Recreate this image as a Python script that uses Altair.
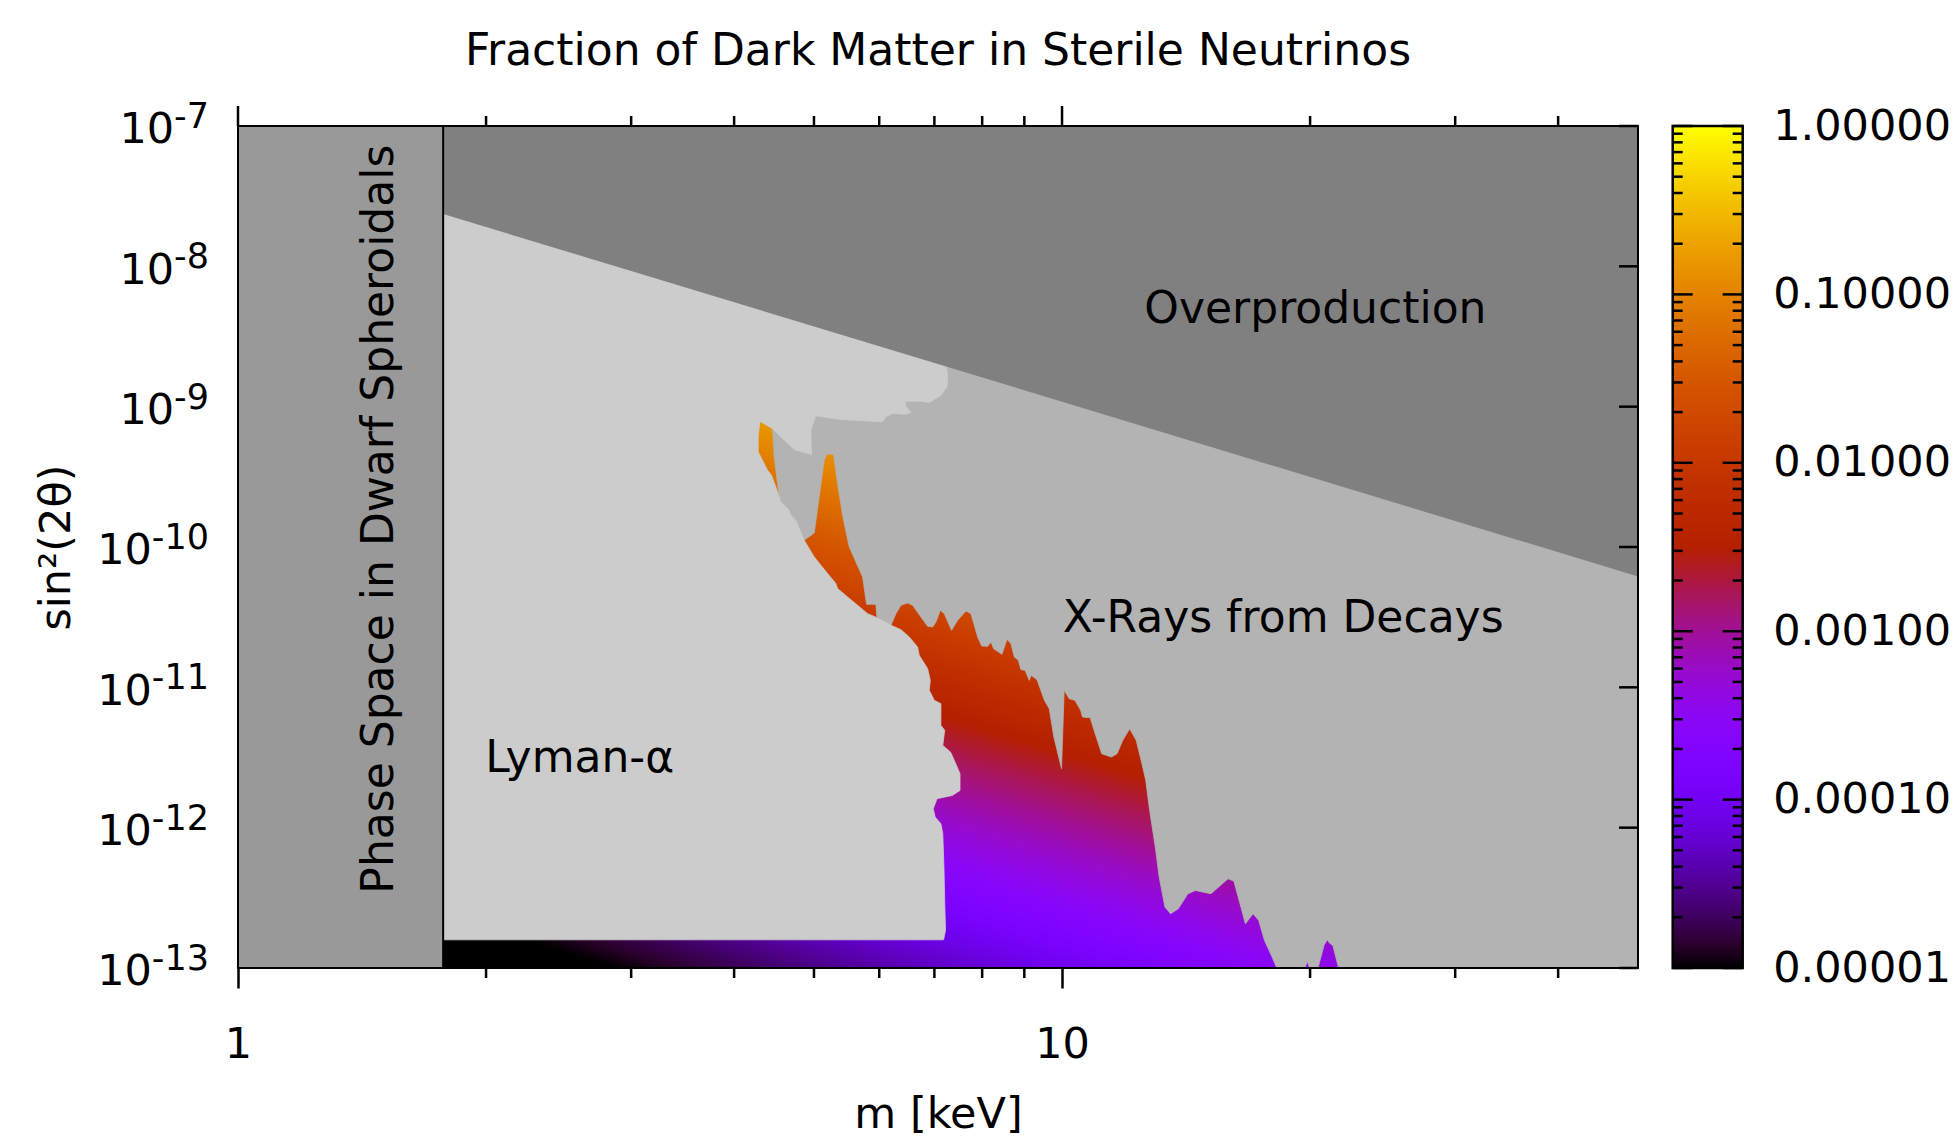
import math
import altair as alt
import pandas as pd

# ---------------- data ----------------
M_DOMAIN = [1.0, 50.0]          # keV
S_DOMAIN = [1e-13, 1e-7]        # sin^2(2 theta)
F_DOMAIN = [1e-5, 1.0]          # fraction of dark matter

PHASE_M = 1.774                 # phase-space (dwarf spheroidals) bound

OVER_M = [1.774, 50.0]          # overproduction bound (fraction = 1)
OVER_S = [2.36e-8, 6.17e-11]

# Lyman-alpha exclusion boundary, top -> bottom (log10 m, log10 sin^2)
LYMAN_LOGM = [0.8591, 0.8612, 0.8604, 0.8531, 0.8389, 0.8288, 0.8094, 0.8106, 0.8166, 0.8085,
              0.7944, 0.7863, 0.7822, 0.7316, 0.7013, 0.6952, 0.6960, 0.6750, 0.6628, 0.6487,
              0.6333, 0.6313, 0.6313, 0.6365, 0.6426, 0.6474, 0.6527, 0.6568, 0.6588, 0.6689,
              0.6709, 0.6770, 0.6871, 0.6993, 0.7155, 0.7256, 0.7276, 0.7397, 0.7519, 0.7640,
              0.7754, 0.7822, 0.7924, 0.8045, 0.8146, 0.8247, 0.8267, 0.8369, 0.8401, 0.8389,
              0.8450, 0.8530, 0.8530, 0.8576, 0.8553, 0.8646, 0.8693, 0.8762, 0.8762, 0.8669,
              0.8483, 0.8437, 0.8460, 0.8530, 0.8553, 0.8567, 0.8576, 0.8586, 0.8562]
LYMAN_LOGS = [-8.7042, -8.7755, -8.8586, -8.9181, -8.9703, -8.9608, -8.9608, -8.9965, -9.0416, -9.0535,
              -9.0488, -9.0725, -9.1082, -9.0916, -9.0654, -9.1676, -9.3411, -9.3055, -9.2389, -9.1557,
              -9.1034, -9.2151, -9.3221, -9.3815, -9.4528, -9.4885, -9.5717, -9.6430, -9.6786, -9.7380,
              -9.7737, -9.8093, -9.9519, -10.0708, -10.1896, -10.2609, -10.2965, -10.3560, -10.4154, -10.4748,
              -10.5033, -10.5223, -10.5580, -10.5889, -10.6412, -10.7125, -10.7719, -10.8669, -10.9501, -11.0214,
              -11.0927, -11.1165, -11.2710, -11.3066, -11.4136, -11.4611, -11.5205, -11.6156, -11.7344, -11.7701,
              -11.7938, -11.8651, -11.9246, -11.9721, -12.0434, -12.2811, -12.5187, -12.7326, -12.7992]

# X-ray (decay) exclusion boundary, left -> right (log10 m, log10 sin^2)
XRAY_LOGM = [0.6333, 0.6487, 0.6507, 0.6568, 0.6588, 0.6689, 0.6709, 0.6770, 0.6871,
             0.6993, 0.7114, 0.7146, 0.7227, 0.7276, 0.7337, 0.7418, 0.7580, 0.7628, 0.7741, 0.7754,
             0.7822, 0.7924,
             0.7984, 0.8045, 0.8126, 0.8187, 0.8288, 0.8369, 0.8430, 0.8470, 0.8523, 0.8571,
             0.8660, 0.8733, 0.8834, 0.8895, 0.8976, 0.9025, 0.9097, 0.9138, 0.9170, 0.9271,
             0.9332, 0.9381, 0.9421, 0.9470, 0.9502, 0.9551, 0.9603, 0.9624, 0.9697, 0.9786,
             0.9845, 0.9901, 0.9994, 1.0026, 1.0087, 1.0157, 1.0226, 1.0249, 1.0342, 1.0389,
             1.0482, 1.0598, 1.0668, 1.0737, 1.0821, 1.0900, 1.0970, 1.1016, 1.1063, 1.1132,
             1.1179, 1.1249, 1.1318, 1.1411, 1.1527, 1.1620, 1.1806, 1.1922, 1.2015, 1.2085,
             1.2155, 1.2225, 1.2318, 1.2387, 1.2457, 1.2550, 1.2606,
             1.2951, 1.2975, 1.3004, 1.3105, 1.3153, 1.3178, 1.3218, 1.3247, 1.3287, 1.3356]
XRAY_LOGS = [-9.1034, -9.1557, -9.3577, -9.6430, -9.6786, -9.7380, -9.7737, -9.8093, -9.9519,
             -9.8996, -9.3815, -9.3387, -9.3387, -9.5479, -9.7737, -9.9995, -10.2134, -10.4082, -10.4082, -10.4986,
             -10.5223, -10.5580,
             -10.4748, -10.4154, -10.3987, -10.4154, -10.4986, -10.5651, -10.5699, -10.5342, -10.4510, -10.4748,
             -10.5936, -10.5223, -10.4558, -10.4748, -10.6412, -10.7054, -10.7078, -10.6768, -10.7244, -10.7648,
             -10.6578, -10.6887, -10.7838, -10.8075, -10.8741, -10.8789, -10.9501, -10.9145, -10.9454, -11.0927,
             -11.1521, -11.3542, -11.5799, -11.0214, -11.0808, -11.0927, -11.1640, -11.2115, -11.2163, -11.3066,
             -11.4730, -11.4968, -11.4730, -11.3779, -11.2947, -11.3779, -11.5443, -11.6631, -11.8770, -12.1385,
             -12.3524, -12.5663, -12.6138, -12.5782, -12.4712, -12.4474, -12.4712, -12.4118, -12.3643, -12.3809,
             -12.5306, -12.6851, -12.6138, -12.6614, -12.8039, -12.9228, -13.0,
             -13.0, -12.9513, -13.0, -13.0, -12.8990, -12.8395, -12.7991, -12.8229, -12.8395, -13.0]

X_MAJOR = [1, 10]
X_MINOR = [2, 3, 4, 5, 6, 7, 8, 9, 20, 30, 40]
Y_TICKS = [1e-13, 1e-12, 1e-11, 1e-10, 1e-9, 1e-8, 1e-7]
Y_EXP = ["-13", "-12", "-11", "-10", "-9", "-8", "-7"]
CB_TICKS = [1e-5, 1e-4, 1e-3, 1e-2, 1e-1, 1.0]
CB_MINOR = [k * d for d in [1e-5, 1e-4, 1e-3, 1e-2, 1e-1] for k in range(2, 10)]

ANNOT_TEXT = ["Overproduction", "X-Rays from Decays", "Lyman-α", "Phase Space in Dwarf Spheroidals"]
ANNOT_M = [20.3, 18.55, 2.598, 1.489]
ANNOT_S = [4.87e-9, 3.06e-11, 3.07e-12, 1.58e-10]
ANNOT_ANGLE = [0, 0, 0, 270]

TITLE = "Fraction of Dark Matter in Sterile Neutrinos"

# ---------------- styling ----------------
W, H = 1400, 842
FONT = "DejaVu Sans"
FS = 43          # tick labels / axis titles
FS_TXT = 44      # title and annotations
FS_EXP = 35      # exponent of the y tick labels
C_PHASE = "#999999"
C_OVER = "#808080"
C_XRAY = "#b3b3b3"
C_LYMAN = "#cccccc"


def palette(t):
    # gnuplot "rgbformulae 7,5,15"
    r = math.sqrt(t)
    g = t ** 3
    b = max(0.0, math.sin(2 * math.pi * t))
    return "#%02x%02x%02x" % (round(255 * r), round(255 * g), round(255 * b))


STOPS = [alt.GradientStop(offset=i / 40, color=palette(i / 40)) for i in range(41)]

# colour field: lines of constant fraction run parallel to the overproduction bound
lm_min, lm_max = math.log10(M_DOMAIN[0]), math.log10(M_DOMAIN[1])
ls_min, ls_max = math.log10(S_DOMAIN[0]), math.log10(S_DOMAIN[1])
lf_min, lf_max = math.log10(F_DOMAIN[0]), math.log10(F_DOMAIN[1])
A = lm_max - lm_min
Ls = ls_max - ls_min
Lf = lf_max - lf_min
k = (math.log10(OVER_S[1]) - math.log10(OVER_S[0])) / (math.log10(OVER_M[1]) - math.log10(OVER_M[0]))
l0 = math.log10(OVER_S[0])
lm0 = math.log10(OVER_M[0])
alpha = -k * A / Lf
beta = -Ls / Lf
gamma = (ls_max - l0 - k * (lm_min - lm0) - lf_min) / Lf
n2 = alpha ** 2 + beta ** 2
dx, dy = alpha / n2, beta / n2
gx1, gy1 = -gamma * dx, -gamma * dy
gx2, gy2 = gx1 + dx, gy1 + dy
FIELD_FILL = alt.LinearGradient(gradient="linear", stops=STOPS, x1=gx1, y1=gy1, x2=gx2, y2=gy2)
CB_FILL = alt.LinearGradient(gradient="linear", stops=STOPS, x1=0, y1=1, x2=0, y2=0)

xs = alt.Scale(type="log", domain=M_DOMAIN, nice=False, zero=False)
ys = alt.Scale(type="log", domain=S_DOMAIN, nice=False, zero=False)
cs = alt.Scale(type="log", domain=F_DOMAIN, nice=False, zero=False)

x_axis = alt.Axis(values=X_MAJOR, format="~g", title="m [keV]", tickSize=20, tickWidth=2.5, tickColor="black",
                  domain=False, grid=False, labelFont=FONT, labelFontSize=FS, labelColor="black",
                  labelPadding=35, labelFlush=False, labelOverlap=False, titleFont=FONT, titleFontSize=FS,
                  titleFontWeight="normal", titleColor="black", titlePadding=27)
y_axis = alt.Axis(values=Y_TICKS, labels=False, ticks=False, tickSize=0, domain=False, grid=False,
                  minExtent=0, maxExtent=0, title="sin²(2θ)", titleFont=FONT, titleFontSize=FS,
                  titleFontWeight="normal", titleColor="black", titlePadding=160)
cb_axis = alt.Axis(orient="right", values=CB_TICKS, format=".5f", ticks=False, tickSize=0, domain=False,
                   grid=False, labelFont=FONT, labelFontSize=FS, labelColor="black", labelPadding=30,
                   offset=104.7, title=None, labelOverlap=False, labelFlush=False)


def X(f):
    return alt.X(f, scale=xs, axis=x_axis)


def Y(f):
    return alt.Y(f, scale=ys, axis=y_axis)


def YC(f):
    return alt.Y(f, scale=cs, axis=cb_axis)


# ---------------- tables ----------------
field_df = pd.DataFrame({"m0": [M_DOMAIN[0]], "m1": [M_DOMAIN[1]], "s0": [S_DOMAIN[0]], "s1": [S_DOMAIN[1]]})

xray_pts = [(PHASE_M, S_DOMAIN[1])] + [(10 ** a, 10 ** b) for a, b in zip(XRAY_LOGM, XRAY_LOGS)] + \
           [(M_DOMAIN[1], S_DOMAIN[0]), (M_DOMAIN[1], S_DOMAIN[1])]
xray_df = pd.DataFrame({"i": range(len(xray_pts)), "m": [p[0] for p in xray_pts], "s": [p[1] for p in xray_pts]})

lyman_pts = [(PHASE_M, S_DOMAIN[1]), (10 ** LYMAN_LOGM[0], S_DOMAIN[1])] + \
            [(10 ** a, 10 ** b) for a, b in zip(LYMAN_LOGM, LYMAN_LOGS)] + [(PHASE_M, 10 ** LYMAN_LOGS[-1])]
lyman_df = pd.DataFrame({"i": range(len(lyman_pts)), "m": [p[0] for p in lyman_pts], "s": [p[1] for p in lyman_pts]})

over_df = pd.DataFrame({"m": OVER_M, "s": OVER_S, "top": [S_DOMAIN[1]] * 2})
phase_df = pd.DataFrame({"m0": [M_DOMAIN[0]], "m1": [PHASE_M], "s0": [S_DOMAIN[0]], "s1": [S_DOMAIN[1]]})
xmaj_df = pd.DataFrame({"m": X_MAJOR})
xmin_df = pd.DataFrame({"m": X_MINOR})
ytick_df = pd.DataFrame({"s": Y_TICKS, "e": Y_EXP, "b": ["10"] * len(Y_TICKS)})
annot_df = pd.DataFrame({"t": ANNOT_TEXT, "m": ANNOT_M, "s": ANNOT_S, "a": ANNOT_ANGLE})
title_df = pd.DataFrame({"t": [TITLE]})
cb_df = pd.DataFrame({"f0": [F_DOMAIN[0]], "f1": [F_DOMAIN[1]]})
cbmaj_df = pd.DataFrame({"f": CB_TICKS})
cbmin_df = pd.DataFrame({"f": CB_MINOR})

# ---------------- main panel ----------------
field = alt.Chart(field_df).mark_rect(fill=FIELD_FILL, strokeWidth=0).encode(
    x=X("m0:Q"), x2="m1:Q", y=Y("s0:Q"), y2="s1:Q")

xray = alt.Chart(xray_df).mark_line(fill=C_XRAY, stroke=C_XRAY, strokeWidth=0.8, clip=True).encode(
    x=X("m:Q"), y=Y("s:Q"), order="i:Q")

lyman = alt.Chart(lyman_df).mark_line(fill=C_LYMAN, stroke=C_LYMAN, strokeWidth=0.8, clip=True).encode(
    x=X("m:Q"), y=Y("s:Q"), order="i:Q")

over = alt.Chart(over_df).mark_area(color=C_OVER, clip=True).encode(
    x=X("m:Q"), y=Y("s:Q"), y2="top:Q")

phase = alt.Chart(phase_df).mark_rect(color=C_PHASE).encode(
    x=X("m0:Q"), x2="m1:Q", y=Y("s0:Q"), y2="s1:Q")

phase_line = alt.Chart(phase_df).mark_rule(color="black", strokeWidth=2).encode(
    x=X("m1:Q"), y=Y("s0:Q"), y2="s1:Q")

frame = alt.Chart(field_df).mark_rect(fill=None, stroke="black", strokeWidth=2).encode(
    x=X("m0:Q"), x2="m1:Q", y=Y("s0:Q"), y2="s1:Q")

bot_minor = alt.Chart(xmin_df).mark_rule(color="black", strokeWidth=2.5).encode(
    x=X("m:Q"), y=alt.value(H), y2=alt.value(H + 10))
top_minor = alt.Chart(xmin_df).mark_rule(color="black", strokeWidth=2.5).encode(
    x=X("m:Q"), y=alt.value(0), y2=alt.value(-10))
top_major = alt.Chart(xmaj_df).mark_rule(color="black", strokeWidth=2.5).encode(
    x=X("m:Q"), y=alt.value(0), y2=alt.value(-20))
right_ticks = alt.Chart(ytick_df).mark_rule(color="black", strokeWidth=2.5).encode(
    y=Y("s:Q"), x=alt.value(W - 19), x2=alt.value(W))

# y tick labels: "10" with a raised, smaller exponent (right-justified as a whole)
EXP_RIGHT = -29
exp_w_short = FS_EXP * (0.361 + 0.636)
exp_w_long = FS_EXP * (0.361 + 2 * 0.636)
ylab_exp = alt.Chart(ytick_df).mark_text(font=FONT, fontSize=FS_EXP, color="black", align="right",
                                         baseline="alphabetic", dy=2).encode(
    y=Y("s:Q"), x=alt.value(EXP_RIGHT), text="e:N")
ylab_base_s = alt.Chart(ytick_df).transform_filter("length(datum.e) == 2").mark_text(
    font=FONT, fontSize=FS, color="black", align="right", baseline="alphabetic", dy=17.3).encode(
    y=Y("s:Q"), x=alt.value(EXP_RIGHT - exp_w_short), text="b:N")
ylab_base_l = alt.Chart(ytick_df).transform_filter("length(datum.e) == 3").mark_text(
    font=FONT, fontSize=FS, color="black", align="right", baseline="alphabetic", dy=17.3).encode(
    y=Y("s:Q"), x=alt.value(EXP_RIGHT - exp_w_long), text="b:N")

texts = alt.Chart(annot_df).mark_text(font=FONT, fontSize=FS_TXT, color="black", align="center",
                                      baseline="middle").encode(
    x=X("m:Q"), y=Y("s:Q"), text="t:N", angle=alt.Angle("a:Q", scale=None))

title = alt.Chart(title_df).mark_text(font=FONT, fontSize=FS_TXT, color="black", align="center",
                                      baseline="middle").encode(
    x=alt.value(W / 2), y=alt.value(-74.5), text="t:N")

main = alt.layer(field, xray, lyman, over, phase, phase_line, frame, bot_minor, top_minor, top_major,
                 right_ticks, ylab_exp, ylab_base_s, ylab_base_l, texts, title)

# ---------------- colour bar ----------------
CB_L, CB_R = W + 34.7, W + 104.7
cbar = alt.Chart(cb_df).mark_rect(fill=CB_FILL, stroke="black", strokeWidth=2.5).encode(
    y=YC("f0:Q"), y2="f1:Q", x=alt.value(CB_L), x2=alt.value(CB_R))
cb_maj_l = alt.Chart(cbmaj_df).mark_rule(color="black", strokeWidth=2.5).encode(
    y=YC("f:Q"), x=alt.value(CB_L), x2=alt.value(CB_L + 20))
cb_maj_r = alt.Chart(cbmaj_df).mark_rule(color="black", strokeWidth=2.5).encode(
    y=YC("f:Q"), x=alt.value(CB_R - 20), x2=alt.value(CB_R))
cb_min_l = alt.Chart(cbmin_df).mark_rule(color="black", strokeWidth=2.5).encode(
    y=YC("f:Q"), x=alt.value(CB_L), x2=alt.value(CB_L + 10))
cb_min_r = alt.Chart(cbmin_df).mark_rule(color="black", strokeWidth=2.5).encode(
    y=YC("f:Q"), x=alt.value(CB_R - 10), x2=alt.value(CB_R))
colorbar = alt.layer(cbar, cb_maj_l, cb_maj_r, cb_min_l, cb_min_r)

chart = alt.layer(main, colorbar).resolve_scale(y="independent").properties(
    width=W, height=H,
    autosize=alt.AutoSizeParams(type="none"),
    padding={"left": 230, "top": 118, "right": 314, "bottom": 167},
).configure_axis(
    labelFont=FONT, titleFont=FONT, labelColor="black", titleColor="black"
).configure_view(stroke=None).configure(background="white", font=FONT)

chart.save("out.html", embed_options={"renderer": "svg", "actions": False})
